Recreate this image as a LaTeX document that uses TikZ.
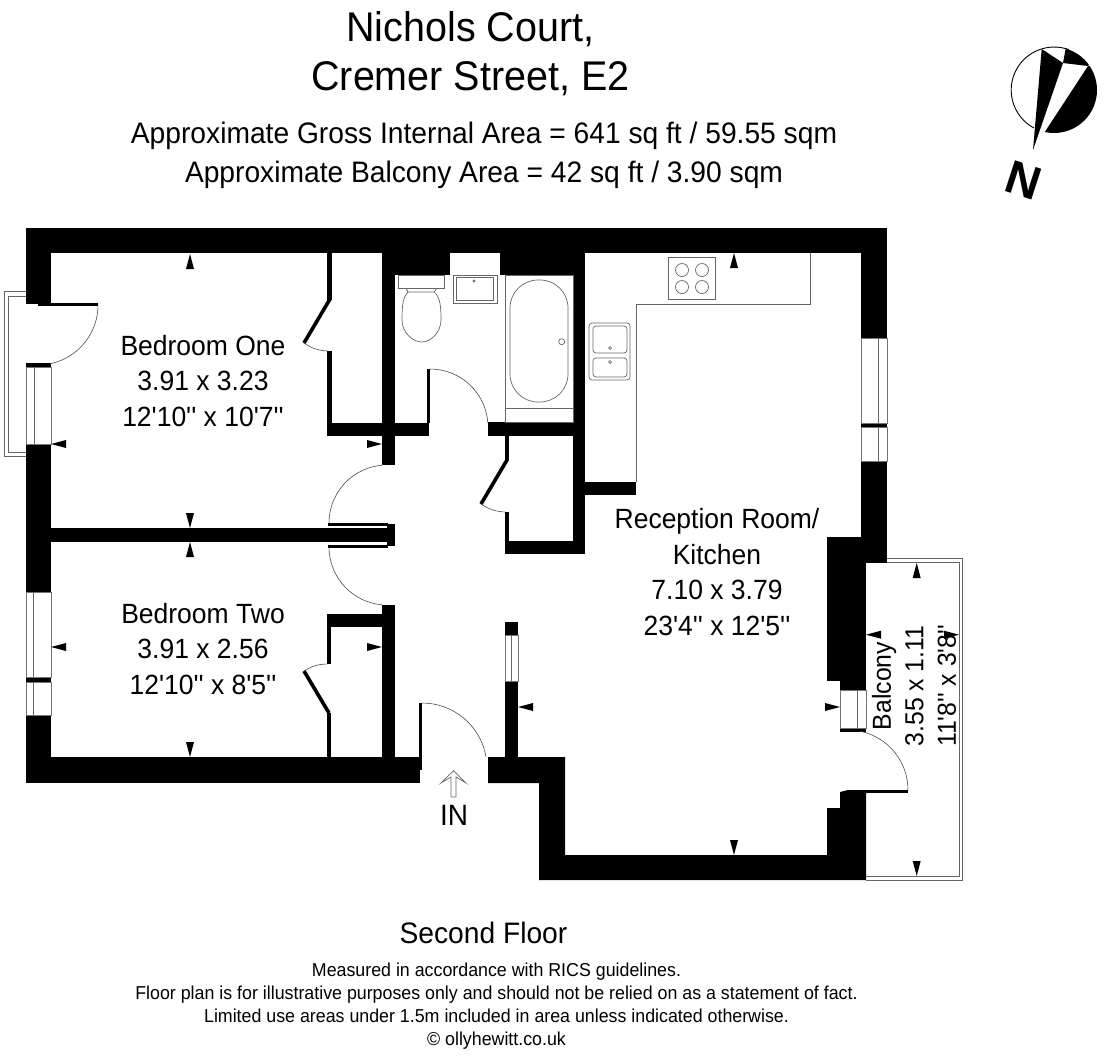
\documentclass[tikz,border=0pt]{standalone}
\usepackage{fontspec}
\newfontfamily\planfont{Liberation Sans}
\newcommand{\planfs}[2]{\planfont\fontsize{#1}{#2}\selectfont}
\newcommand{\dimtip}[3]{\fill[shift={(#1,#2)},rotate=#3] (0,0) -- (-4,-15) -- (4,-15) -- cycle;}
\tikzset{
	wall/.style={fill=black,draw=none},
	glass/.style={draw=black!55,line width=0.7pt,fill=white},
	fitting/.style={draw=black!60,line width=0.7pt},
	swing/.style={draw=black!70,line width=0.6pt},
	leaf/.style={draw=black,line width=3.6pt},
	lettering/.style={align=center,inner sep=0pt,yscale=1.05},
	room/.style={lettering,font=\planfs{26.5}{33.8}}
}
\begin{document}
\begin{tikzpicture}[x=1pt,y=1pt]
	\useasboundingbox (0,0) rectangle (1104,-1058);
	% balconies
	\draw[fitting] (26,-291.7) -- (4.5,-291.7) -- (4.5,-456) -- (26,-456);
	\draw[fitting] (26,-296) -- (8.5,-296) -- (8.5,-452) -- (26,-452);
	\draw[fitting] (887,-558.7) -- (962.7,-558.7) -- (962.7,-880) -- (866,-880);
	\draw[fitting] (866,-562.7) -- (959,-562.7) -- (959,-876) -- (866,-876);
	% outer walls
	\fill[wall] (26,-227.5) rectangle (887,-253);
	\fill[wall] (26,-227.5) rectangle (51,-304);
	\fill[wall] (26,-363) rectangle (51,-367);
	\fill[wall] (26,-444) rectangle (51,-592);
	\fill[wall] (26,-677) rectangle (51,-682);
	\fill[wall] (26,-715) rectangle (51,-783);
	\fill[wall] (26,-757) rectangle (420,-783);
	\fill[wall] (861,-253) rectangle (887,-338);
	\fill[wall] (861,-423) rectangle (887,-427);
	\fill[wall] (861,-461) rectangle (887,-563);
	\fill[wall] (827,-537) rectangle (866,-681);
	\fill[wall] (840,-681) rectangle (866,-690);
	\fill[wall] (840,-728) rectangle (866,-732);
	\fill[wall] (488,-757) -- (565,-757) -- (565,-855) -- (827,-855) -- (827,-808) -- (840,-808)
		-- (840,-792) -- (848,-790) -- (866,-790) -- (866,-880) -- (539,-880) -- (539,-783) -- (488,-783) -- cycle;
	% inner walls
	\fill[wall] (51,-528) rectangle (387.5,-542);
	\fill[wall] (387,-524) rectangle (395,-546);
	\fill[wall] (382,-253) rectangle (395,-465);
	\fill[wall] (382,-605) rectangle (395,-757);
	\fill[wall] (327,-614) rectangle (382,-627);
	\fill[wall] (327,-627) rectangle (331,-664);
	\fill[wall] (327,-713) rectangle (331,-757);
	\fill[wall] (327,-253) rectangle (332,-300);
	\fill[wall] (327,-351) rectangle (332,-423);
	\fill[wall] (327,-423) rectangle (429,-436);
	\fill[wall] (395,-253) rectangle (450,-275);
	\fill[wall] (500,-253) rectangle (585,-275);
	\fill[wall] (573,-275) rectangle (585,-554);
	\fill[wall] (488,-422) rectangle (585,-436);
	\fill[wall] (505,-541) rectangle (585,-554);
	\fill[wall] (505,-436) rectangle (509,-461);
	\fill[wall] (505,-512) rectangle (509,-541);
	\fill[wall] (585,-482) rectangle (636,-495);
	\fill[wall] (505,-622) rectangle (518,-635);
	\fill[wall] (505,-681) rectangle (518,-757);
	% windows
	\draw[glass] (26,-367) rectangle (51,-444);
	\draw[fitting] (34,-367) -- (34,-444);
	\draw[glass] (26,-592) rectangle (51,-677);
	\draw[glass] (26,-682) rectangle (51,-715);
	\draw[fitting] (33,-592) -- (33,-677);
	\draw[fitting] (33,-682) -- (33,-715);
	\draw[glass] (861,-338) rectangle (887,-423);
	\draw[glass] (861,-427) rectangle (887,-461);
	\draw[fitting] (878,-338) -- (878,-423);
	\draw[fitting] (878,-427) -- (878,-461);
	\draw[glass] (840,-690) rectangle (866,-728);
	\draw[fitting] (857,-690) -- (857,-728);
	\draw[glass] (505,-635) rectangle (518,-681);
	\draw[fitting] (511.5,-635) -- (511.5,-681);
	% doors
	\fill[wall] (38,-302.5) rectangle (98,-305.5);
	\draw[swing] (98,-305) arc[start angle=0,end angle=-78,radius=60];
	\fill[wall] (328,-522.7) rectangle (387.5,-525.7);
	\draw[swing] (329,-523) arc[start angle=180,end angle=95,radius=58];
	\fill[wall] (328,-545) rectangle (387.5,-548);
	\draw[swing] (329,-547) arc[start angle=180,end angle=265,radius=58];
	\fill[wall] (427,-369) rectangle (430,-423);
	\draw[swing] (430,-369) arc[start angle=90,end angle=4,radius=58];
	\fill[wall] (418.6,-703) rectangle (422,-770);
	\draw[swing] (422,-703) arc[start angle=90,end angle=10,radius=65];
	\fill[wall] (848,-790) rectangle (908,-793);
	\draw[swing] (908,-790) arc[start angle=0,end angle=78,radius=60];
	% cupboard doors
	\draw[leaf] (330,-299) -- (304,-343);
	\draw[swing] (304,-343) to[bend right=15] (327,-351);
	\draw[leaf] (329,-713) -- (304,-671);
	\draw[swing] (304,-671) to[bend left=15] (327,-664);
	\draw[leaf] (507,-460) -- (481,-504);
	\draw[swing] (481,-504) to[bend right=15] (505,-512);
	% bathroom
	\draw[fitting] (505.7,-275) rectangle (573,-422);
	\draw[fitting] (505.7,-408) -- (573,-408);
	\draw[fitting,rounded corners=28pt] (510,-280) rectangle (568,-402);
	\draw[fitting] (561.7,-341.7) circle (3);
	\draw[fitting] (453,-275) rectangle (497,-303);
	\draw[fitting] (456,-277) rectangle (493,-300);
	\draw[fitting] (474,-281) circle (1.2);
	\draw[fitting] (398,-275) rectangle (444,-288);
	\draw[fitting] (406,-288) -- (408,-292) -- (434,-292) -- (437,-288);
	\draw[fitting] (408,-292) .. controls (403,-297) and (402,-305) .. (402,-320)
		.. controls (402,-332) and (412,-342) .. (422,-342)
		.. controls (431,-342) and (441,-332) .. (441,-320)
		.. controls (441,-305) and (440,-297) .. (434,-292);
	% kitchen
	\draw[fitting] (810,-253) -- (810,-304) -- (636,-304) -- (636,-482);
	\draw[fitting] (668,-257.7) rectangle (715,-299);
	\draw[fitting] (682,-270) circle (6.5);
	\draw[fitting] (702,-270) circle (6.5);
	\draw[fitting] (682,-287) circle (6.5);
	\draw[fitting] (702,-287) circle (6.5);
	\draw[fitting,rounded corners=3pt] (589,-323) rectangle (630,-380);
	\draw[fitting,rounded corners=3pt] (593,-326) rectangle (627,-353);
	\draw[fitting,rounded corners=3pt] (593,-358) rectangle (627,-377);
	\draw[fitting] (610,-348) circle (1.5);
	\draw[fitting] (610,-362) circle (1.5);
	% dimension marks
	\dimtip{190}{-254}{0}
	\dimtip{190}{-528}{180}
	\dimtip{190}{-542}{0}
	\dimtip{190}{-757}{180}
	\dimtip{51}{-444}{90}
	\dimtip{382}{-444}{-90}
	\dimtip{51}{-647}{90}
	\dimtip{382}{-647}{-90}
	\dimtip{734}{-253}{0}
	\dimtip{734}{-855}{180}
	\dimtip{518}{-707}{90}
	\dimtip{840}{-707}{-90}
	\dimtip{916.7}{-563}{0}
	\dimtip{916.7}{-876}{180}
	\dimtip{866}{-634.7}{90}
	\dimtip{959}{-634.7}{-90}
	% entrance arrow
	\draw[fitting,fill=white] (453.6,-770.7) -- (466,-783) -- (456,-777) -- (456,-797) -- (451,-797) -- (451,-777) -- (441,-783) -- cycle;
	% north point
	\draw[line width=0.9pt] (1034,-128) arc[start angle=242,end angle=70,radius=43];
	\fill (1033,-150) -- (1041.7,-49) -- (1063,-63) -- cycle;
	\begin{scope}
		\clip (1054,-90) circle (43);
		\fill (1063,-63) -- (1067.3,-40) -- (1105,-40) -- (1088,-66) -- cycle;
		\fill (1033,-150) -- (1088,-66) -- (1110,-66) -- (1110,-150) -- cycle;
	\end{scope}
	\node[inner sep=0pt,rotate=-18,font=\planfont\bfseries\fontsize{47}{47}\selectfont] (northlabel) at (1024,-180) {N};
	% texts
	\node[lettering,font=\planfs{39.5}{47.2}] (title) at (470.5,-53.5) {Nichols Court,\\Cremer Street, E2};
	\node[lettering,font=\planfs{28.2}{37.4}] (area) at (484,-155.5) {Approximate Gross Internal Area = 641 sq ft / 59.55 sqm\\Approximate Balcony Area = 42 sq ft / 3.90 sqm};
	\node[room] (bedone) at (203,-381) {Bedroom One\\3.91 x 3.23\\12'10'' x 10'7''};
	\node[room] (bedtwo) at (203,-649) {Bedroom Two\\3.91 x 2.56\\12'10'' x 8'5''};
	\node[room] (reception) at (717,-572) {Reception Room/\\Kitchen\\7.10 x 3.79\\23'4'' x 12'5''};
	\node[rotate=90,lettering,font=\planfs{24.8}{31}] (balcony) at (914,-686) {Balcony\\3.55 x 1.11\\11'8'' x 3'8''};
	\node[lettering,font=\planfs{28}{30}] (entry) at (454,-815) {IN};
	\node[lettering,font=\planfs{28.2}{30}] (floorname) at (483.5,-933) {Second Floor};
	\node[lettering,font=\planfs{17.8}{21.9}] (notes) at (496.5,-1006.5) {Measured in accordance with RICS guidelines.\\Floor plan is for illustrative purposes only and should not be relied on as a statement of fact.\\Limited use areas under 1.5m included in area unless indicated otherwise.\\\textcopyright\ ollyhewitt.co.uk};
\end{tikzpicture}
\end{document}
